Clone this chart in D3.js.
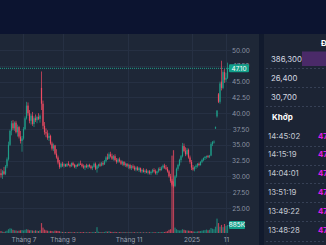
<!DOCTYPE html>
<html>
<head>
<meta charset="utf-8">
<script src="https://cdn.jsdelivr.net/npm/d3@7"></script>
<style>
  body { margin: 0; background: #0c1430; }
  svg { display: block; font-family: Inter, Roboto, sans-serif; }
</style>
</head>
<body>
<div id="chart"></div>
<script>
// OHLC + volume (thousand shares), one entry per session
const opens = [
  30.5,30.2,30.8,30.4,31.6,32.7,35.0,37.2,38.4,37.6,
  38.5,37.0,37.8,36.3,35.6,36.0,37.5,39.2,41.2,40.0,
  38.8,39.6,38.3,39.2,38.9,39.4,39.1,44.0,41.5,38.0,
  37.0,36.8,36.1,36.4,35.2,34.4,34.9,33.6,33.0,32.2,
  31.5,32.0,31.7,31.9,31.6,32.0,31.8,31.6,32.1,31.8,
  31.5,31.8,31.7,32.0,31.9,31.6,31.4,31.7,31.5,31.8,
  31.6,31.3,31.5,32.0,31.2,31.6,31.9,31.7,32.1,31.9,
  32.4,33.0,32.8,33.5,33.2,32.8,33.2,32.6,32.3,32.7,
  32.4,32.0,32.3,31.8,32.0,31.6,31.8,31.3,31.6,31.4,
  31.1,31.4,31.0,31.3,30.8,31.0,30.7,30.9,30.6,30.8,
  30.5,30.7,31.0,30.8,30.5,30.8,31.2,31.0,31.4,31.7,
  31.4,31.2,30.8,30.0,29.3,28.7,28.5,30.0,31.2,31.8,
  32.6,33.2,34.8,34.0,33.5,34.2,33.0,32.3,31.4,31.1,
  31.5,31.7,32.0,31.8,32.3,32.6,32.9,33.1,33.2,33.1,
  33.3,35.1,35.4,37.6,39.5,43.0,41.8,45.0,44.0,46.5,45.3,45.6
];
const highs = [
  31.2,31.0,31.5,31.8,33.0,35.5,37.4,38.8,38.9,38.7,
  38.8,38.2,38.0,37.2,36.4,37.8,39.5,41.8,41.7,40.5,
  39.9,40.2,39.5,39.8,39.6,40.0,39.8,46.6,42.0,38.6,
  37.6,37.3,36.9,36.6,35.5,35.2,35.0,34.3,33.3,32.6,
  32.2,32.3,32.1,32.0,32.1,32.4,32.0,32.2,32.3,32.0,
  31.9,32.0,32.2,32.5,32.1,31.9,31.8,32.0,31.9,32.0,
  31.8,31.7,32.2,32.2,31.8,32.0,32.2,32.3,32.4,32.6,
  33.2,33.6,33.8,33.9,33.6,33.4,33.5,32.9,32.9,33.0,
  32.6,32.5,32.4,32.2,32.1,32.0,32.0,31.8,31.9,31.7,
  31.6,31.6,31.5,31.4,31.2,31.3,31.1,31.2,31.0,31.0,
  30.9,31.2,31.3,31.1,30.9,31.4,31.5,31.6,31.9,32.0,
  31.8,31.5,31.0,30.4,29.6,29.2,30.2,31.4,32.0,32.8,
  33.4,35.3,35.2,34.6,34.5,34.4,33.3,32.6,31.8,31.6,
  31.9,32.1,32.2,32.4,32.8,33.0,33.2,33.3,33.4,33.4,
  35.4,35.6,35.7,37.9,40.5,43.2,45.0,48.3,46.8,47.0,46.4,48.0
];
const lows = [
  29.8,29.6,30.2,30.2,31.3,32.5,34.8,36.5,37.3,37.2,
  36.8,36.3,36.0,35.2,33.9,35.8,37.3,39.0,39.6,38.4,
  38.2,38.0,37.8,38.6,38.4,38.9,38.5,40.5,37.5,36.6,
  36.2,35.8,35.6,35.0,34.1,34.0,33.4,32.8,31.9,31.2,
  31.3,31.5,31.4,31.5,31.5,31.7,31.4,31.5,31.6,31.3,
  31.2,31.5,31.6,31.8,31.4,31.2,31.0,31.3,31.2,31.4,
  31.1,31.0,31.4,31.0,30.6,31.3,31.5,31.6,31.7,31.8,
  32.2,32.6,32.7,33.0,32.6,32.5,32.4,32.0,32.1,32.2,
  31.8,31.7,31.6,31.5,31.4,31.2,31.1,31.0,31.2,30.9,
  30.8,30.9,30.7,30.6,30.5,30.6,30.4,30.5,30.3,30.3,
  30.2,30.5,30.6,30.3,30.2,30.6,30.8,30.9,31.2,31.2,
  31.0,30.6,29.8,29.0,28.4,28.2,28.3,29.8,30.9,31.6,
  32.2,33.0,33.8,33.2,33.3,32.8,32.0,31.0,30.9,30.8,
  31.2,31.4,31.6,31.7,32.1,32.4,32.6,32.8,32.9,32.9,
  33.2,34.8,35.2,37.5,39.3,41.6,41.5,43.6,43.8,44.8,44.9,45.4
];
const closes = [
  30.2,30.8,30.4,31.6,32.7,35.0,37.2,38.4,37.6,38.5,
  37.0,37.8,36.3,35.6,36.0,37.5,39.2,41.2,40.0,38.8,
  39.6,38.3,39.2,38.9,39.4,39.1,39.6,41.5,38.0,37.0,
  36.8,36.1,36.4,35.2,34.4,34.9,33.6,33.0,32.2,31.5,
  32.0,31.7,31.9,31.6,32.0,31.8,31.6,32.1,31.8,31.5,
  31.8,31.7,32.0,31.9,31.6,31.4,31.7,31.5,31.8,31.6,
  31.3,31.5,32.0,31.2,31.6,31.9,31.7,32.1,31.9,32.4,
  33.0,32.8,33.5,33.2,32.8,33.2,32.6,32.3,32.7,32.4,
  32.0,32.3,31.8,32.0,31.6,31.8,31.3,31.6,31.4,31.1,
  31.4,31.0,31.3,30.8,31.0,30.7,30.9,30.6,30.8,30.5,
  30.7,31.0,30.8,30.5,30.8,31.2,31.0,31.4,31.7,31.4,
  31.2,30.8,30.0,29.3,28.7,28.5,30.0,31.2,31.8,32.6,
  33.2,34.8,34.0,33.5,34.2,33.0,32.3,31.4,31.1,31.5,
  31.7,32.0,31.8,32.3,32.6,32.9,33.1,33.2,33.1,33.3,
  35.1,35.4,35.5,37.8,40.4,41.8,44.7,44.0,46.5,45.3,45.6,47.1
];
const volumes = [
  220,150,120,180,260,420,520,480,350,300,
  280,240,260,300,330,280,360,420,380,300,
  320,280,240,300,260,220,300,1100,600,380,
  300,260,200,240,220,180,260,240,220,200,
  140,120,100,110,90,100,120,90,80,100,
  90,80,100,90,80,110,90,80,100,90,
  80,90,120,110,650,140,110,90,100,120,
  180,150,200,140,120,110,130,100,90,100,
  90,80,100,90,80,70,90,80,70,90,
  80,70,90,80,70,80,70,80,70,90,
  70,80,90,70,80,110,90,100,120,110,
  150,200,350,420,8600,9200,600,420,320,280,
  300,420,360,300,280,260,240,220,180,160,
  150,180,200,220,260,300,320,380,300,360,
  560,480,420,700,1600,1100,700,900,650,1000,800,885
];

const priceTicks = [25, 27.5, 30, 32.5, 35, 37.5, 40, 42.5, 45, 47.5, 50];
const timeTickIdx = [15, 41, 85, 127, 150];
const timeLabels = ['Tháng 7', 'Tháng 9', 'Tháng 11', '2025', '11'];
const lastPrice = 47.10;
const lastVolume = '885K';

const bidVolumes = ['386,300', '26,400', '30,700'];
const tradeTimes = ['14:45:02', '14:15:19', '14:04:01', '13:51:19', '13:49:22', '13:48:28'];
const tradePrices = ['47.10', '47.10', '47.10', '47.10', '47.10', '47.10'];

const W = 326, H = 245;
const UP = '#1f9e89', DOWN = '#ee4b62';

const svg = d3.select('#chart').append('svg')
  .attr('width', W).attr('height', H);

// backgrounds
svg.append('rect').attr('width', W).attr('height', H).attr('fill', '#0c1430');
svg.append('rect').attr('x', 0).attr('y', 34).attr('width', 259).attr('height', H - 34).attr('fill', '#1e2737');
svg.append('rect').attr('x', 259).attr('y', 34).attr('width', 5).attr('height', H - 34).attr('fill', '#111a2d');
svg.append('rect').attr('x', 264).attr('y', 34).attr('width', W - 264).attr('height', H - 34).attr('fill', '#1c2434');

const x = d3.scaleLinear().domain([0, closes.length - 1]).range([1, 227.5]);
const y = d3.scaleLinear().domain([25, 50]).range([208, 50]);
const v = d3.scaleLinear().domain([0, 1000]).range([233, 224]);

// grid
svg.append('g').selectAll('line').data(priceTicks).join('line')
  .attr('x1', 0).attr('x2', 231)
  .attr('y1', d => Math.round(y(d)) + 0.5).attr('y2', d => Math.round(y(d)) + 0.5)
  .attr('stroke', '#263043').attr('stroke-width', 1);
svg.append('g').selectAll('line').data(timeTickIdx).join('line')
  .attr('x1', d => Math.round(x(d)) + 0.5).attr('x2', d => Math.round(x(d)) + 0.5)
  .attr('y1', 34).attr('y2', H)
  .attr('stroke', '#263043').attr('stroke-width', 1);

// volume bars
svg.append('g').selectAll('rect').data(volumes).join('rect')
  .attr('x', (d, i) => x(i) - 0.6)
  .attr('width', 1.2)
  .attr('y', d => v(d))
  .attr('height', d => v(0) - v(d))
  .attr('fill', (d, i) => closes[i] >= opens[i] ? UP : DOWN)
  .attr('opacity', 0.75);

// candles
const candles = svg.append('g').selectAll('g').data(closes).join('g');
candles.append('line')
  .attr('x1', (d, i) => x(i)).attr('x2', (d, i) => x(i))
  .attr('y1', (d, i) => y(highs[i])).attr('y2', (d, i) => y(lows[i]))
  .attr('stroke', (d, i) => d >= opens[i] ? UP : DOWN)
  .attr('stroke-width', 0.7);
candles.append('rect')
  .attr('x', (d, i) => x(i) - 0.6)
  .attr('width', 1.2)
  .attr('y', (d, i) => y(Math.max(d, opens[i])))
  .attr('height', (d, i) => Math.max(0.8, Math.abs(y(d) - y(opens[i]))))
  .attr('fill', (d, i) => d >= opens[i] ? UP : DOWN);

// last price line
svg.append('line')
  .attr('x1', 0).attr('x2', 229)
  .attr('y1', y(lastPrice)).attr('y2', y(lastPrice))
  .attr('stroke', UP).attr('stroke-width', 1).attr('stroke-dasharray', '1,1');

// price axis
const yAxis = svg.append('g').attr('transform', 'translate(241,0)')
  .call(d3.axisRight(y).tickValues(priceTicks).tickSize(0).tickPadding(0).tickFormat(d3.format('.2f')));
yAxis.select('.domain').remove();
yAxis.selectAll('text')
  .attr('text-anchor', 'middle').attr('x', 0)
  .attr('fill', '#8c94a4').style('font-size', '6.5px').style('font-family', 'Inter, Roboto, sans-serif');

// time axis
const xAxis = svg.append('g').attr('transform', 'translate(0,237)')
  .call(d3.axisBottom(x).tickValues(timeTickIdx).tickSize(0).tickPadding(0)
    .tickFormat((d, i) => timeLabels[i]));
xAxis.select('.domain').remove();
xAxis.selectAll('text')
  .attr('fill', '#9aa1b0').style('font-size', '6.5px').style('font-family', 'Inter, Roboto, sans-serif');

// price / volume badges
const badge = (cx, cy, w, label) => {
  svg.append('rect').attr('x', cx).attr('y', cy - 4).attr('width', w).attr('height', 8)
    .attr('rx', 1).attr('fill', '#12a08a');
  svg.append('text').attr('x', cx + w / 2).attr('y', cy + 2.3)
    .attr('text-anchor', 'middle').attr('fill', '#ffffff')
    .style('font-size', '6.5px').text(label);
};
badge(229, y(lastPrice), 20, d3.format('.2f')(lastPrice));
badge(229, v(885), 16, lastVolume);

// right panel
const panel = svg.append('g');
panel.append('text').attr('x', 321).attr('y', 46).attr('fill', '#ffffff')
  .style('font-size', '8px').style('font-weight', 700).text('Đặt');
panel.append('rect').attr('x', 302).attr('y', 51.5).attr('width', 24).attr('height', 14.5).attr('fill', '#4a2a68');
panel.selectAll('.bid').data(bidVolumes).join('text').attr('class', 'bid')
  .attr('x', 271).attr('y', (d, i) => 62 + i * 19.2)
  .attr('fill', '#d5d9e1').style('font-size', '7.8px').text(d => d);
panel.selectAll('.sep1').data([68, 87, 106]).join('line').attr('class', 'sep1')
  .attr('x1', 266).attr('x2', W).attr('y1', d => d + 0.5).attr('y2', d => d + 0.5)
  .attr('stroke', '#364055').attr('stroke-dasharray', '2,2');
panel.append('text').attr('x', 272).attr('y', 120).attr('fill', '#ffffff')
  .style('font-size', '8px').style('font-weight', 700).text('Khớp');
panel.selectAll('.tt').data(tradeTimes).join('text').attr('class', 'tt')
  .attr('x', 268).attr('y', (d, i) => 138.5 + i * 18.8)
  .attr('fill', '#c3c8d1').style('font-size', '7.8px').text(d => d);
panel.selectAll('.tp').data(tradePrices).join('text').attr('class', 'tp')
  .attr('x', 318).attr('y', (d, i) => 138.5 + i * 18.8)
  .attr('fill', '#e01de6').style('font-size', '7.8px').style('font-weight', 700).text(d => d);
panel.selectAll('.sep2').data([146, 165, 183, 202, 221, 241]).join('line').attr('class', 'sep2')
  .attr('x1', 266).attr('x2', W).attr('y1', d => d + 0.5).attr('y2', d => d + 0.5)
  .attr('stroke', '#364055').attr('stroke-dasharray', '2,2');
</script>
</body>
</html>
